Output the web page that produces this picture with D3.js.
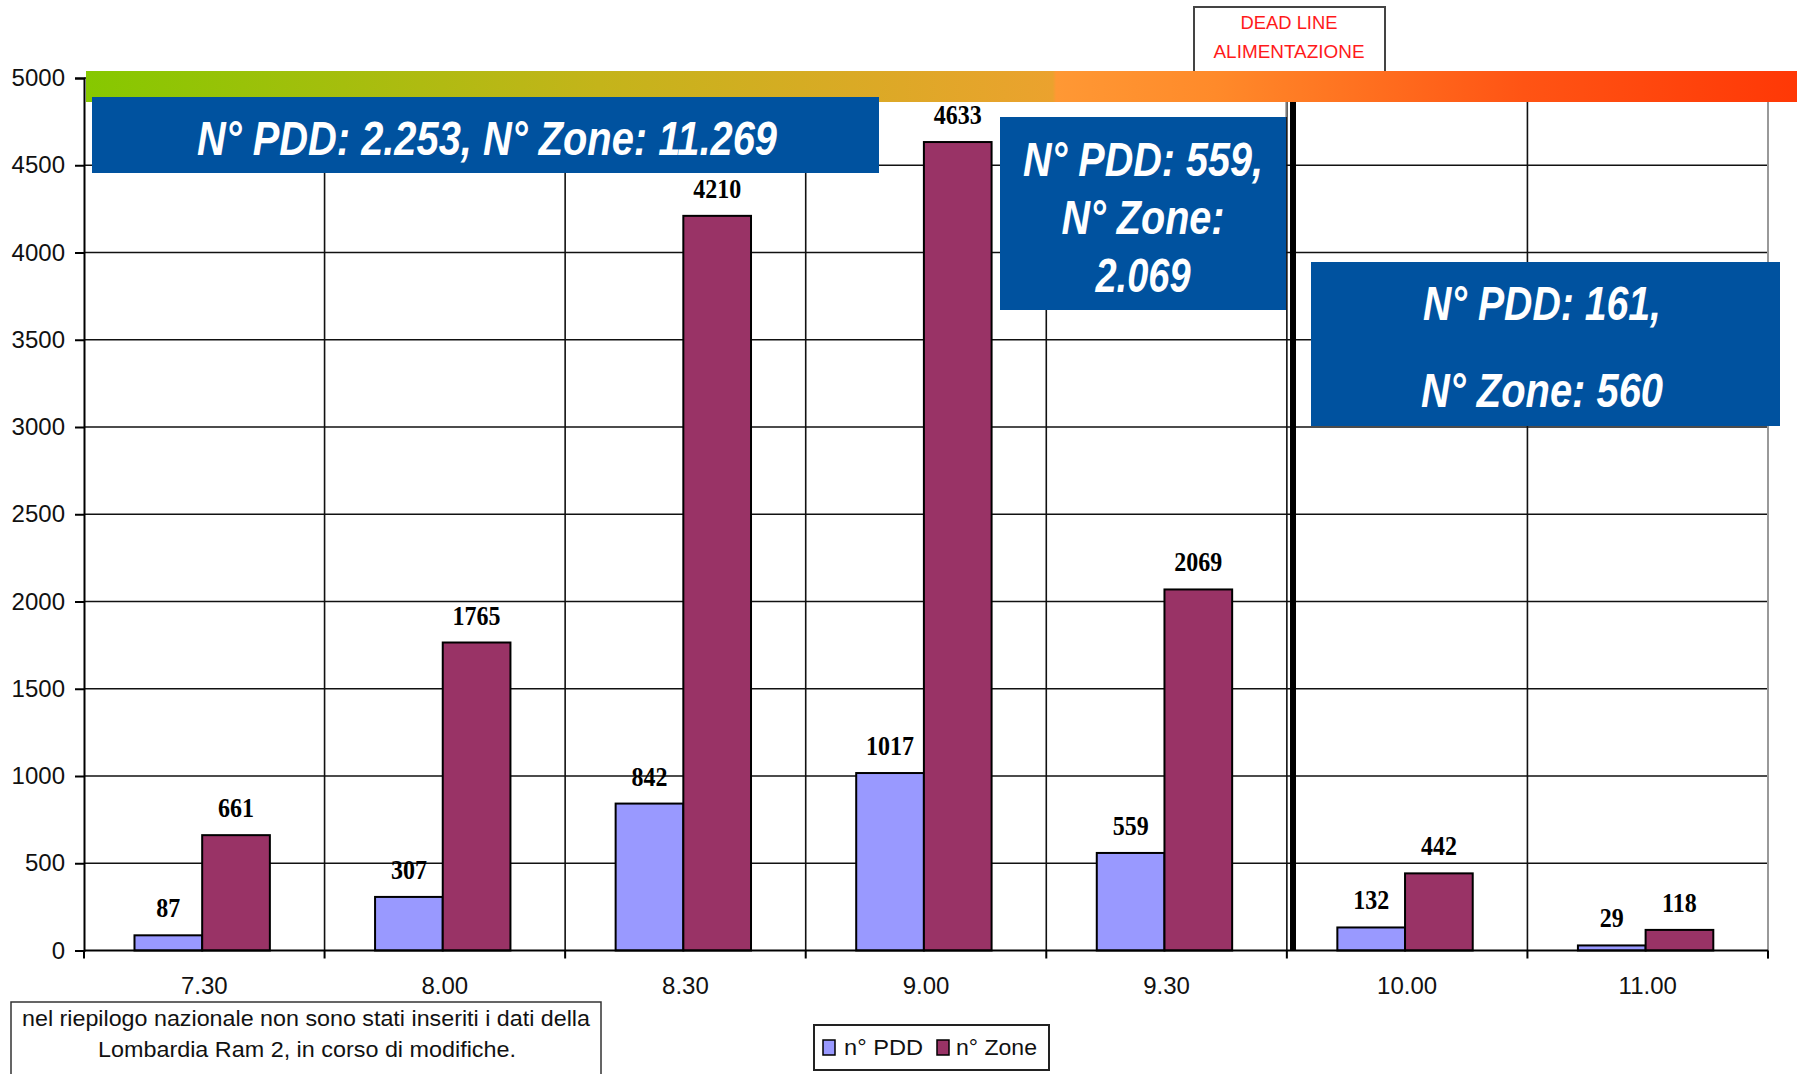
<!DOCTYPE html>
<html><head><meta charset="utf-8">
<script src="https://cdn.jsdelivr.net/npm/d3@7/dist/d3.min.js"></script>
<style>html,body{margin:0;padding:0;background:#fff;overflow:hidden}</style>
</head><body>
<svg id="chart" width="1800" height="1074"></svg>
<script>
const categories = ["7.30","8.00","8.30","9.00","9.30","10.00","11.00"];
const seriesNames = ["n° PDD","n° Zone"];
const pddValues = [87,307,842,1017,559,132,29];
const zoneValues = [661,1765,4210,4633,2069,442,118];
const yTicks = [0,500,1000,1500,2000,2500,3000,3500,4000,4500,5000];
const box1Lines = ["N° PDD: 2.253, N° Zone: 11.269"];
const box2Lines = ["N° PDD: 559,","N° Zone:","2.069"];
const box3Lines = ["N° PDD: 161,","N° Zone: 560"];
const deadLineText = ["DEAD LINE","ALIMENTAZIONE"];
const footnoteLines = ["nel riepilogo nazionale non sono stati inseriti i dati della","Lombardia Ram 2, in corso di modifiche."];

(function(){
const colors = {"n° PDD":"#9999FF","n° Zone":"#993366"};
const svg = d3.select("#chart");
const pLeft = 84, pRight = 1768, pTop = 78, pBottom = 950.5;

const x = d3.scaleBand().domain(categories).range([pLeft,pRight]).paddingInner(0).paddingOuter(0);
const xs = d3.scaleBand().domain(seriesNames).range([0,x.bandwidth()]).paddingInner(0).paddingOuter(0.777).align(0.48);
const y = d3.scaleLinear().domain([0,5000]).range([pBottom,pTop]);

const data = categories.map((c,i)=>({cat:c, vals:[{s:seriesNames[0],v:pddValues[i]},{s:seriesNames[1],v:zoneValues[i]}]}));

svg.append("g").selectAll("line").data(yTicks.filter(t=>t>0)).join("line")
  .attr("x1",pLeft).attr("x2",pRight).attr("y1",d=>y(d)).attr("y2",d=>y(d))
  .attr("stroke","#111").attr("stroke-width",1.6);
const bounds = categories.slice(1).map(c=>x(c));
svg.append("g").selectAll("line").data(bounds).join("line")
  .attr("x1",d=>d).attr("x2",d=>d).attr("y1",102).attr("y2",pBottom)
  .attr("stroke","#111").attr("stroke-width",1.6);
svg.append("line").attr("x1",pRight).attr("x2",pRight).attr("y1",102).attr("y2",pBottom+8)
  .attr("stroke","#999").attr("stroke-width",2);

const g = svg.append("g").selectAll("g").data(data).join("g").attr("transform",d=>`translate(${x(d.cat)},0)`);
g.selectAll("rect").data(d=>d.vals).join("rect")
  .attr("x",d=>xs(d.s)).attr("width",xs.bandwidth())
  .attr("y",d=>y(d.v)).attr("height",d=>y(0)-y(d.v))
  .attr("fill",d=>colors[d.s]).attr("stroke","#000").attr("stroke-width",2);
g.selectAll("text").data(d=>d.vals).join("text")
  .attr("transform",d=>`translate(${xs(d.s)+xs.bandwidth()/2},${y(d.v)-18}) scale(1,1.12)`)
  .attr("text-anchor","middle").attr("font-family","'Liberation Serif',serif")
  .attr("font-weight","bold").attr("font-size",24).attr("fill","#000")
  .text(d=>d.v);

const yAxis = svg.append("g").attr("transform",`translate(${pLeft},0)`)
  .call(d3.axisLeft(y).tickValues(yTicks).tickSize(9).tickPadding(10).tickFormat(d3.format("d")));
yAxis.select(".domain").attr("stroke","#000").attr("stroke-width",2);
yAxis.selectAll(".tick line").attr("stroke","#000").attr("stroke-width",2);
yAxis.selectAll("text").attr("font-family","'Liberation Sans',Arial,sans-serif").attr("font-size",24).attr("fill","#111");

svg.append("line").attr("x1",pLeft).attr("x2",pRight).attr("y1",pBottom).attr("y2",pBottom).attr("stroke","#000").attr("stroke-width",2);
const xAxis = svg.append("g").attr("transform",`translate(0,${pBottom})`)
  .call(d3.axisBottom(x).tickSize(0).tickPadding(26));
xAxis.select(".domain").remove();
xAxis.selectAll("text").attr("font-family","'Liberation Sans',Arial,sans-serif").attr("font-size",24).attr("fill","#111");
svg.append("g").selectAll("line").data([pLeft,...bounds,pRight]).join("line")
  .attr("x1",d=>d).attr("x2",d=>d).attr("y1",pBottom).attr("y2",pBottom+8).attr("stroke","#000").attr("stroke-width",2);

svg.append("rect").attr("x",1194).attr("y",7).attr("width",191).attr("height",80)
  .attr("fill","#fff").attr("stroke","#444").attr("stroke-width",2);
const dl = svg.append("g").attr("font-family","'Liberation Sans',Arial,sans-serif").attr("font-size",19).attr("fill","#FF1A1A").attr("text-anchor","middle");
dl.append("text").attr("x",1289).attr("y",29).attr("textLength",97).attr("lengthAdjust","spacingAndGlyphs").text(deadLineText[0]);
dl.append("text").attr("x",1289).attr("y",58).attr("textLength",151).attr("lengthAdjust","spacingAndGlyphs").text(deadLineText[1]);

const defs = svg.append("defs");
const grad = defs.append("linearGradient").attr("id","topbar").attr("x1","0").attr("x2","1").attr("y1","0").attr("y2","0");
[[0,"#86C800"],[0.3,"#C4B41A"],[0.565,"#EBA22E"],[0.567,"#FF9834"],[0.66,"#FF8A2A"],[0.84,"#FF5414"],[1,"#FF3806"]]
  .forEach(([o,c])=>grad.append("stop").attr("offset",o).attr("stop-color",c));
svg.append("rect").attr("x",86).attr("y",71).attr("width",1711).attr("height",31).attr("fill","url(#topbar)");

svg.append("rect").attr("x",1000).attr("y",102).attr("width",286).attr("height",15).attr("fill","#fff");
svg.append("line").attr("x1",1286).attr("x2",1286).attr("y1",102).attr("y2",117).attr("stroke","#999").attr("stroke-width",1.5);

svg.append("line").attr("x1",1293).attr("x2",1293).attr("y1",102).attr("y2",pBottom).attr("stroke","#000").attr("stroke-width",6);

const blue = "#00529F";
function box(bx,by,bw,bh,lines,cx,baselines,widths){
  svg.append("rect").attr("x",bx).attr("y",by).attr("width",bw).attr("height",bh).attr("fill",blue);
  lines.forEach((t,i)=>{
    svg.append("text").attr("x",cx).attr("y",baselines[i]).attr("text-anchor","middle")
      .attr("font-family","'Liberation Sans',Arial,sans-serif").attr("font-weight","bold").attr("font-style","italic")
      .attr("font-size",48).attr("fill","#fff")
      .attr("textLength",widths[i]).attr("lengthAdjust","spacingAndGlyphs").text(t);
  });
}
box(92,97,787,76,box1Lines,487,[155],[580]);
box(1000,117,286,193,box2Lines,1143,[176,234,292],[240,163,95]);
box(1311,262,469,164,box3Lines,1542,[320,407],[238,242]);

svg.append("rect").attr("x",11).attr("y",1002).attr("width",590).attr("height",90).attr("fill","#fff").attr("stroke","#333").attr("stroke-width",1.5);
const fn = svg.append("g").attr("font-family","'Liberation Sans',Arial,sans-serif").attr("font-size",22).attr("fill","#111").attr("text-anchor","middle");
fn.append("text").attr("x",306).attr("y",1026).attr("textLength",568).attr("lengthAdjust","spacingAndGlyphs").text(footnoteLines[0]);
fn.append("text").attr("x",307).attr("y",1057).attr("textLength",418).attr("lengthAdjust","spacingAndGlyphs").text(footnoteLines[1]);

svg.append("rect").attr("x",814).attr("y",1025).attr("width",235).attr("height",45).attr("fill","#fff").attr("stroke","#222").attr("stroke-width",2);
const leg = [{s:seriesNames[0],sx:823,tx:844,tw:79},{s:seriesNames[1],sx:937,tx:956,tw:81}];
leg.forEach(l=>{
  svg.append("rect").attr("x",l.sx).attr("y",1040).attr("width",12).attr("height",15).attr("fill",colors[l.s]).attr("stroke","#000").attr("stroke-width",1.5);
  svg.append("text").attr("x",l.tx).attr("y",1055).attr("font-family","'Liberation Sans',Arial,sans-serif").attr("font-size",22).attr("fill","#111")
    .attr("textLength",l.tw).attr("lengthAdjust","spacingAndGlyphs").text(l.s);
});
})();
</script>
</body></html>
